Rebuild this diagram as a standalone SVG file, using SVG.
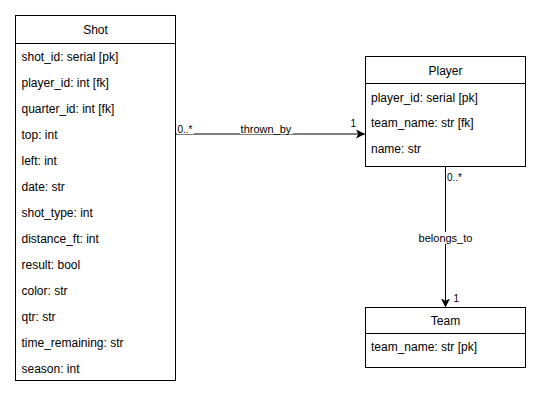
<svg xmlns="http://www.w3.org/2000/svg" width="548" height="405" viewBox="0 0 548 405">
  <style>
    .box { fill: #ffffff; stroke: #000000; stroke-width: 1; }
    .sep { stroke: #000000; stroke-width: 1; }
    .title { font-family: "Liberation Sans", Arial, Helvetica, sans-serif; font-size: 12px; fill: #000000; text-anchor: middle; }
    .attr { font-family: "Liberation Sans", Arial, Helvetica, sans-serif; font-size: 12px; fill: #000000; }
    .edge { fill: none; stroke: #000000; stroke-width: 1; }
    .lbl { font-family: "Liberation Sans", Arial, Helvetica, sans-serif; font-size: 11px; fill: #000000; text-anchor: middle; }
    .mult { font-family: "Liberation Sans", Arial, Helvetica, sans-serif; font-size: 10px; fill: #000000; }
    .bg { fill: #ffffff; stroke: none; }
  </style>
  <defs>
    <marker id="arrow" viewBox="0 0 10 10" refX="10" refY="5" markerWidth="9" markerHeight="9" markerUnits="userSpaceOnUse" orient="auto">
      <path d="M0,0 L10,5 L0,10 L2.5,5 Z" fill="#000000"/>
    </marker>
  </defs>

  <rect width="548" height="405" fill="#ffffff"/>

  <!-- connectors -->
  <g id="connectors">
    <g id="edge-thrown-by">
      <path class="edge" d="M175.5,134 L365,134" marker-end="url(#arrow)"/>
      <rect class="bg" x="177" y="124" width="17" height="10"/>
      <text class="mult" x="177.5" y="133">0..*</text>
      <rect class="bg" x="240" y="123" width="53" height="11"/>
      <text class="lbl" x="266" y="133">thrown_by</text>
      <text class="mult" x="350.5" y="127">1</text>
    </g>
    <g id="edge-belongs-to">
      <path class="edge" d="M445.5,166.5 L445.5,307.5" marker-end="url(#arrow)"/>
      <text class="mult" x="447" y="180.5">0..*</text>
      <rect class="bg" x="418" y="232" width="55" height="12"/>
      <text class="lbl" x="445.5" y="242">belongs_to</text>
      <text class="mult" x="453.5" y="301.5">1</text>
    </g>
  </g>

  <!-- Shot -->
  <g id="node-shot">
    <rect class="box" x="15.5" y="15.5" width="160" height="365"/>
    <line class="sep" x1="15.5" y1="43.5" x2="175.5" y2="43.5"/>
    <text class="title" x="95.5" y="34">Shot</text>
    <text class="attr" x="21.5" y="61">shot_id: serial [pk]</text>
    <text class="attr" x="21.5" y="87">player_id: int [fk]</text>
    <text class="attr" x="21.5" y="113">quarter_id: int [fk]</text>
    <text class="attr" x="21.5" y="139">top: int</text>
    <text class="attr" x="21.5" y="165">left: int</text>
    <text class="attr" x="21.5" y="191">date: str</text>
    <text class="attr" x="21.5" y="217">shot_type: int</text>
    <text class="attr" x="21.5" y="243">distance_ft: int</text>
    <text class="attr" x="21.5" y="269">result: bool</text>
    <text class="attr" x="21.5" y="295">color: str</text>
    <text class="attr" x="21.5" y="321">qtr: str</text>
    <text class="attr" x="21.5" y="347">time_remaining: str</text>
    <text class="attr" x="21.5" y="373">season: int</text>
  </g>

  <!-- Player -->
  <g id="node-player">
    <rect class="box" x="365.5" y="56.5" width="160" height="110"/>
    <line class="sep" x1="365.5" y1="83.5" x2="525.5" y2="83.5"/>
    <text class="title" x="445.5" y="75">Player</text>
    <text class="attr" x="371" y="101.5">player_id: serial [pk]</text>
    <text class="attr" x="371" y="127">team_name: str [fk]</text>
    <text class="attr" x="371" y="153">name: str</text>
  </g>

  <!-- Team -->
  <g id="node-team">
    <rect class="box" x="365.5" y="307.5" width="160" height="60"/>
    <line class="sep" x1="365.5" y1="333.5" x2="525.5" y2="333.5"/>
    <text class="title" x="445.5" y="325">Team</text>
    <text class="attr" x="371" y="351">team_name: str [pk]</text>
  </g>
</svg>
